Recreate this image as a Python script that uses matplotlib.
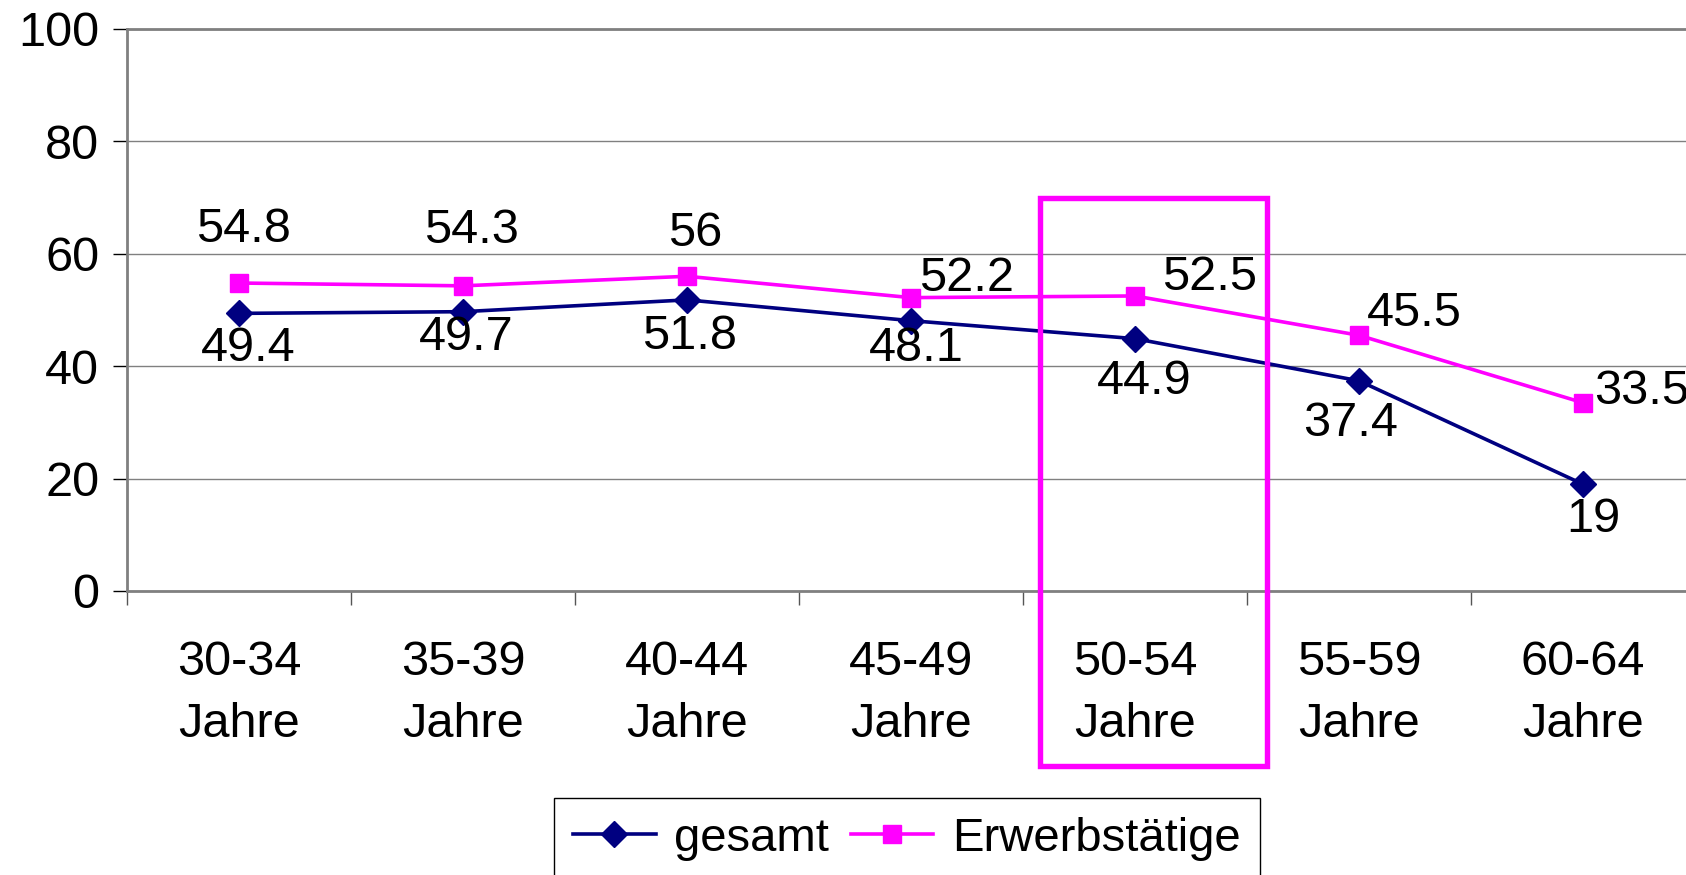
import matplotlib.pyplot as plt
from matplotlib.patches import Rectangle
import numpy as np

plt.rcParams['font.family'] = ['Liberation Sans', 'DejaVu Sans']

categories = ['30-34\nJahre', '35-39\nJahre', '40-44\nJahre', '45-49\nJahre',
              '50-54\nJahre', '55-59\nJahre', '60-64\nJahre']
gesamt = [49.4, 49.7, 51.8, 48.1, 44.9, 37.4, 19]
erwerbstaetige = [54.8, 54.3, 56, 52.2, 52.5, 45.5, 33.5]
gesamt_labels = ['49.4', '49.7', '51.8', '48.1', '44.9', '37.4', '19']
erwerb_labels = ['54.8', '54.3', '56', '52.2', '52.5', '45.5', '33.5']

# label offsets in pixels (dx, dy, ha)
gesamt_off = [(9, -35, 'center'), (3, -26, 'center'), (3, -37, 'center'), (5, -28, 'center'),
              (9, -43, 'center'), (-8, -43, 'center'), (10, -35, 'center')]
erwerb_off = [(4, 54, 'center'), (8, 55, 'center'), (8, 43, 'center'), (8, 19, 'left'),
              (27, 18, 'left'), (8, 22, 'left'), (11, 11, 'left')]

FS = 35
fig = plt.figure(figsize=(16.86, 8.75), dpi=100)
ax = fig.add_axes([127/1686, 284/875, 1568/1686, 562/875])

x = np.arange(len(categories))
ax.plot(x, gesamt, '-D', color='#000080', linewidth=2.6, markersize=13, label='gesamt', clip_on=False, zorder=3)
ax.plot(x, erwerbstaetige, '-s', color='#FF00FF', linewidth=2.6, markersize=13, label='Erwerbstätige', clip_on=False, zorder=3)

for i in range(len(x)):
    dx, dy, ha = gesamt_off[i]
    ax.annotate(gesamt_labels[i], (x[i], gesamt[i]), xytext=(dx, dy), textcoords='offset pixels',
                ha=ha, va='center', fontsize=FS, annotation_clip=False)
    dx, dy, ha = erwerb_off[i]
    ax.annotate(erwerb_labels[i], (x[i], erwerbstaetige[i]), xytext=(dx, dy), textcoords='offset pixels',
                ha=ha, va='center', fontsize=FS, annotation_clip=False)

ax.set_xlim(-0.5, 6.5)
ax.set_ylim(0, 100)
ax.set_yticks(range(0, 101, 20))
ax.set_yticklabels([str(v) for v in range(0, 101, 20)], fontsize=FS)
ax.set_xticks(x)
ax.set_xticklabels(categories, fontsize=FS, linespacing=1.5)
ax.set_xticks(np.arange(-0.5, 7, 1), minor=True)
ax.tick_params(axis='x', which='major', length=0, pad=35)
ax.tick_params(axis='x', which='minor', length=10, width=1, color='#555555', direction='out')
ax.tick_params(axis='y', length=10, width=1, color='black', pad=10)
ax.grid(axis='y', color='#808080', linewidth=1)
ax.set_axisbelow(True)

for s in ['left', 'bottom', 'top']:
    ax.spines[s].set_color('#808080')
    ax.spines[s].set_linewidth(2)
ax.spines['right'].set_visible(False)

ax.add_patch(Rectangle((3.576, -31.2), 1.013, 101.2, fill=False, edgecolor='#FF00FF',
                       linewidth=3.9, clip_on=False, zorder=4))

fig.legend(loc='upper left', bbox_to_anchor=(554/1686, 1-798/875), ncol=2, fontsize=34,
           frameon=True, fancybox=False, edgecolor='black', framealpha=1, borderaxespad=0,
           handlelength=1.75, handletextpad=0.4, columnspacing=0.45, borderpad=0.4)

fig.savefig('out.png', dpi=100)
